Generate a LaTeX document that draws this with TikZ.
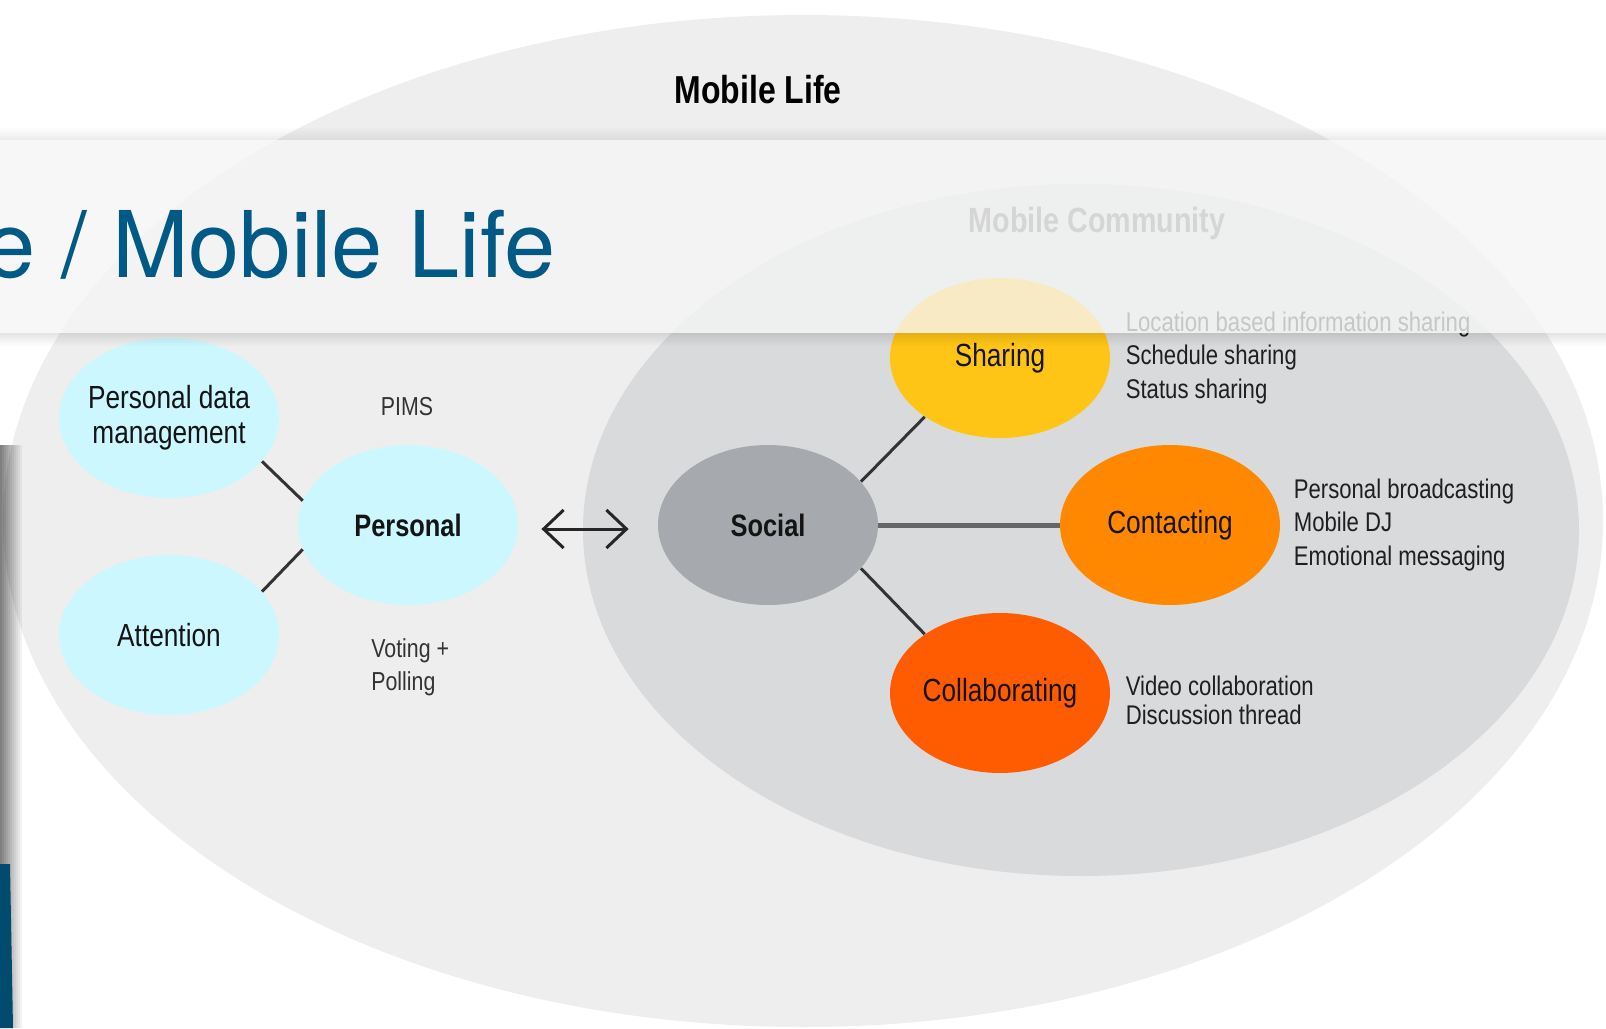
\documentclass[tikz,border=0pt]{standalone}
\usepackage{fontspec}
\setmainfont{Liberation Sans}
\newfontfamily\diafont[FakeStretch=0.82]{Liberation Sans}
\newfontfamily\headfont{TeX Gyre Heros}
\usepackage{tikz}
\usetikzlibrary{positioning,arrows.meta,shapes.geometric}
\usepackage{xcolor}
\definecolor{lifegray}{HTML}{EEEEEE}
\definecolor{communitygray}{HTML}{D9DADB}
\definecolor{personalcyan}{HTML}{CCF7FF}
\definecolor{socialgray}{HTML}{A6A9AD}
\definecolor{sharingyellow}{HTML}{FFC516}
\definecolor{contactorange}{HTML}{FF8800}
\definecolor{collabred}{HTML}{FF5B00}
\definecolor{bannerblue}{HTML}{005A85}
\definecolor{bannerwhite}{HTML}{F5F5F5}
\definecolor{slideteal}{HTML}{004B6E}

\begin{document}
\begin{tikzpicture}[x=0.5pt, y=-0.5pt,
    bubble/.style={ellipse, minimum width=110pt, minimum height=80pt, inner sep=-6pt, align=center, text=black!92, font=\diafont\fontsize{16}{17.5}\selectfont},
    personalBubble/.style={bubble, fill=personalcyan},
    hubBubble/.style={bubble, font=\diafont\bfseries\fontsize{15.5}{17}\selectfont},
    sideLabel/.style={anchor=west, align=left, inner sep=0pt, text=black!88, font=\diafont\fontsize{13.5}{16.8}\selectfont},
    noteText/.style={inner sep=0pt, align=left, text=black!80, font=\diafont\fontsize{13}{16.5}\selectfont},
    link/.style={line width=1.5pt, draw=black!80},
    twoWay/.style={{Straight Barb[length=10pt,width=19pt]}-{Straight Barb[length=10pt,width=19pt]}, line width=1.5pt, draw=black!85}
]
    \useasboundingbox (0,0) rectangle (1606,1028);
    \clip (0,0) rectangle (1606,1028);

    % zones
    \node[ellipse, fill=lifegray, minimum width=800pt, minimum height=506pt, inner sep=0pt] (lifeZone) at (803,521) {};
    \node[ellipse, fill=communitygray, minimum width=498pt, minimum height=346pt, inner sep=0pt] (communityZone) at (1081,530) {};
    \node[font=\diafont\bfseries\fontsize{19.5}{20}\selectfont] (lifeTitle) at (758,90) {Mobile Life};
    \node[font=\diafont\bfseries\fontsize{17.5}{18}\selectfont, text=black!60] (communityTitle) at (1097,223) {Mobile Community};

    % personal side
    \node[personalBubble] (pdm)       at (169,418) {Personal data\\management};
    \node[personalBubble] (attention) at (169,635) {Attention};
    \node[personalBubble, hubBubble, fill=personalcyan] (personal) at (408,525) {Personal};
    \node[noteText] (pims) at (407,407) {PIMS};
    \node[noteText, anchor=west] (voting) at (371,667) {Voting +\\Polling};

    % social side
    \node[hubBubble, fill=socialgray] (social) at (768,525) {Social};
    \node[bubble, fill=sharingyellow] (sharing)  at (1000,358) {Sharing};
    \node[bubble, fill=contactorange] (contact)  at (1170,525) {Contacting};
    \node[bubble, fill=collabred]     (collab)   at (1000,693) {Collaborating};

    \node[sideLabel, right=7.5pt of sharing] (sharingList) {Location based information sharing\\Schedule sharing\\Status sharing};
    \node[sideLabel, right=6.5pt of contact] (contactList) {Personal broadcasting\\Mobile DJ\\Emotional messaging};
    \node[sideLabel, right=7.5pt of collab, yshift=-3.5pt, font=\diafont\fontsize{13.5}{14.5}\selectfont] (collabList) {Video collaboration\\Discussion thread};

    % connectors
    \draw[link] (pdm.-25) -- (personal.167);
    \draw[link] (attention.25) -- (personal.193);
    \draw[twoWay, shorten <=11.5pt, shorten >=14.5pt, transform canvas={yshift=-2pt}] (personal.east) -- (social.west);
    \draw[link] (social.25) -- (sharing.218);
    \draw[link, line width=2.5pt, draw=black!60] (social.east) -- (contact.west);
    \draw[link] (social.-25) -- (collab.142);

    % slide banner on top
    \foreach \k [evaluate=\k as \op using 0.012*\k] in {0,...,6}
        \fill[black, opacity=\op] (0,{126+2*\k}) rectangle (1606,{128+2*\k});
    \fill[bannerwhite, opacity=0.78] (0,140) rectangle (1606,333);
    \foreach \k [evaluate=\k as \op using 0.10-0.016*\k] in {0,...,6}
        \fill[black, opacity=\op] (0,{333+2*\k}) rectangle (1606,{335+2*\k});
    \node[anchor=base east, inner sep=0pt, text=bannerblue, font=\headfont\fontsize{46}{46}\selectfont] (bannerTitle) at (556,277) {e / Mobile Life};

    % edge of the slide behind
    \foreach \k [evaluate=\k as \op using 0.5-0.045*\k] in {0,...,10}
        \fill[black, opacity=\op] ({2*\k},445) rectangle ({2*\k+2},1028);
    \fill[slideteal] (0,864) -- (10,864) -- (13,1028) -- (0,1028) -- cycle;
\end{tikzpicture}
\end{document}
